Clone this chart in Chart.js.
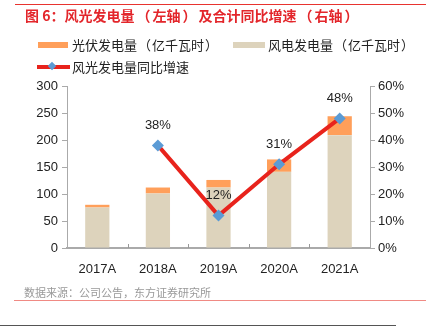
<!DOCTYPE html>
<html>
<head>
<meta charset="utf-8">
<script src="https://cdn.jsdelivr.net/npm/chart.js@4.4.1/dist/chart.umd.min.js"></script>
<style>
  body { margin: 0; width: 426px; height: 328px; background: #fff; position: relative; overflow: hidden;
         font-family: "Noto Sans CJK SC", "Liberation Sans", sans-serif; }
  #wrap { position: absolute; left: 0; top: 0; width: 426px; height: 328px; }
  .topline { position: absolute; left: 15px; top: 4px; width: 411px; height: 1px; background: #e8332f; }
  .title { position: absolute; left: 25px; top: 5px; font-size: 14px; font-weight: bold; color: #e3262b; line-height: 20px; white-space: nowrap; }
  .title .p { margin: 0 2px; }
  .lg { position: absolute; font-size: 13px; color: #222; line-height: 16px; white-space: nowrap; }
  .lg .p { margin: 0 1px; }
  .sw { position: absolute; }
  .src { position: absolute; left: 24px; top: 284px; font-size: 11px; color: #999; line-height: 16px; white-space: nowrap; }
  .srcline { position: absolute; left: 14px; top: 300px; width: 412px; height: 1px; background: #f08a84; }
  .botline { position: absolute; left: 0; top: 325px; width: 396px; height: 1px; background: #555; }
</style>
</head>
<body>
<div id="wrap"><canvas id="myChart" width="426" height="328"></canvas></div>
<div class="topline"></div>
<div class="title">图 6：风光发电量<span class="p">（</span>左轴<span class="p">）</span>及合计同比增速<span class="p">（</span>右轴<span class="p">）</span></div>

<div class="sw" style="left:38px;top:42px;width:30px;height:6px;background:#ff9f5a;"></div>
<div class="lg" style="left:72px;top:37px;">光伏发电量<span class="p">（</span>亿千瓦时<span class="p">）</span></div>
<div class="sw" style="left:233px;top:42px;width:32px;height:6px;background:#ddd3bc;"></div>
<div class="lg" style="left:268px;top:37px;">风电发电量<span class="p">（</span>亿千瓦时<span class="p">）</span></div>
<div class="sw" style="left:37px;top:65px;width:33px;height:4px;background:#e8231c;"></div>
<div class="sw" style="left:49px;top:63px;width:6px;height:6px;background:#5b9bd5;transform:rotate(45deg);"></div>
<div class="lg" style="left:72px;top:59px;">风光发电量同比增速</div>

<div class="src">数据来源：公司公告，东方证券研究所</div>
<div class="srcline"></div>
<div class="botline"></div>

<script>
// chart values
const years = ["2017A", "2018A", "2019A", "2020A", "2021A"];
const solarGen = [5, 11, 14, 23, 35];       // 光伏发电量
const windGen = [75, 101, 112, 141, 209];   // 风电发电量
const growthPct = [null, 38, 12, 31, 48];   // 同比增速 %
const leftTicks = [0, 50, 100, 150, 200, 250, 300];
const rightTicks = [0, 10, 20, 30, 40, 50, 60];

// labels over the growth points + inward x ticks
const extras = {
    id: 'extras',
    afterDatasetsDraw(chart) {
        const ctx = chart.ctx;
        const meta = chart.getDatasetMeta(2);
        ctx.save();
        ctx.font = '13px "Liberation Sans", Arial, sans-serif';
        ctx.fillStyle = '#222';
        ctx.textAlign = 'center';
        ctx.textBaseline = 'middle';
        meta.data.forEach((pt, i) => {
            if (growthPct[i] == null) return;
            ctx.fillText(growthPct[i] + '%', pt.x, pt.y - 20);
        });
        // small ticks between categories, pointing up
        const xs = chart.scales.x;
        const bottom = chart.chartArea.bottom;
        ctx.strokeStyle = '#999';
        ctx.lineWidth = 1;
        for (let i = 1; i < years.length; i++) {
            const x = Math.round((xs.getPixelForValue(i - 1) + xs.getPixelForValue(i)) / 2) + 0.5;
            ctx.beginPath();
            ctx.moveTo(x, bottom);
            ctx.lineTo(x, bottom - 4);
            ctx.stroke();
        }
        ctx.restore();
    }
};

const tickFont = { family: '"Liberation Sans", Arial, sans-serif', size: 13 };

new Chart("myChart", {
    type: "bar",
    data: {
        labels: years,
        datasets: [
            {
                label: "风电发电量（亿千瓦时）",
                data: windGen,
                backgroundColor: "#ddd3bc",
                barPercentage: 0.4,
                categoryPercentage: 1,
                yAxisID: 'y',
                order: 2
            },
            {
                label: "光伏发电量（亿千瓦时）",
                data: solarGen,
                backgroundColor: "#ff9f5a",
                barPercentage: 0.4,
                categoryPercentage: 1,
                yAxisID: 'y',
                order: 2
            },
            {
                type: 'line',
                label: "风光发电量同比增速",
                data: growthPct,
                borderColor: "#e8231c",
                borderWidth: 4,
                pointStyle: 'rectRot',
                pointRadius: 6,
                pointBackgroundColor: "#5b9bd5",
                pointBorderColor: "#5b9bd5",
                pointBorderWidth: 0,
                yAxisID: 'y1',
                stack: 'line',
                order: 0
            }
        ]
    },
    options: {
        responsive: false,
        animation: false,
        layout: { padding: { top: 86, left: 0, right: 0, bottom: 0 } },
        plugins: {
            legend: { display: false },
            tooltip: { enabled: false },
            title: { display: false }
        },
        scales: {
            x: {
                stacked: true,
                grid: { display: false },
                border: { color: '#aaa', width: 2 },
                ticks: { color: '#222', font: tickFont, padding: 6 },
                afterFit(s) { s.height = 80; }
            },
            y: {
                stacked: true,
                position: 'left',
                min: 0, max: 300,
                afterBuildTicks(s) { s.ticks = leftTicks.map(v => ({ value: v })); },
                grid: { drawOnChartArea: false, tickLength: 5, color: '#aaa' },
                border: { color: '#aaa', width: 1 },
                ticks: { color: '#222', font: tickFont, padding: 4 },
                afterFit(s) { s.width = 67; }
            },
            y1: {
                stacked: false,
                position: 'right',
                min: 0, max: 60,
                afterBuildTicks(s) { s.ticks = rightTicks.map(v => ({ value: v })); },
                grid: { drawOnChartArea: false, tickLength: 5, color: '#aaa' },
                border: { color: '#aaa', width: 1 },
                ticks: { color: '#222', font: tickFont, padding: 3, callback: v => v + '%' },
                afterFit(s) { s.width = 56; }
            }
        }
    },
    plugins: [extras]
});
</script>
</body>
</html>
